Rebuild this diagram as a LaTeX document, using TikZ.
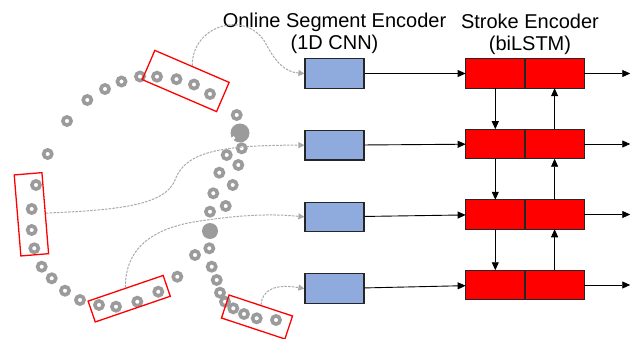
\documentclass[tikz,border=0pt]{standalone}
\usepackage{fontspec}
\setmainfont{Liberation Sans}
\usetikzlibrary{positioning,arrows.meta}
\definecolor{encblue}{RGB}{143,170,220}
\definecolor{dotgray}{RGB}{155,155,155}
\definecolor{flowgray}{RGB}{170,170,170}

\begin{document}
\begin{tikzpicture}
  [x=1pt, y=-1pt, node distance=41pt,
   seg/.style={rectangle, draw=black!85, fill=encblue, line width=1.2pt, minimum width=59pt, minimum height=29.5pt, inner sep=0pt},
   cell/.style={rectangle, draw=black!85, fill=red, line width=1.2pt, minimum width=59.3pt, minimum height=29.5pt, inner sep=0pt, outer sep=0pt},
   pick/.style={rectangle, draw=red, line width=1.3pt, inner sep=0pt},
   ring/.style={draw=dotgray, fill=white, line width=3.6pt},
   arr/.style={-{Triangle[length=8pt,width=7pt]}, line width=0.9pt},
   flow/.style={-{Triangle[length=6pt,width=6pt]}, draw=flowgray, line width=1pt, dash pattern=on 2.5pt off 1.2pt},
   title/.style={align=center, inner sep=0pt, font=\fontsize{20}{22}\selectfont}]
  \useasboundingbox (0,0) rectangle (631,339);

  % pen samples of the stroke
  \foreach \x/\y in {47.7/154, 67/121, 87.3/100, 105/89, 121.5/81.5, 140/76.5, 157/76.7, 176.5/79.2, 194/84.5, 210/94,
      36/185, 31.7/209, 31.7/230, 34.3/248.3, 41.7/266.7, 51.7/278.3, 65/290.7, 80/300, 99/305, 116/306.7,
      137.3/301.7, 158.3/291.7, 177.3/276.7,
      236.7/115, 241.7/148.3, 226.7/155, 238.3/165, 219.3/172.7, 232.7/185, 213.3/193.3, 225.7/206, 210/211.7,
      209.3/248.3, 195/255, 211.7/266.7, 216.7/280, 220/292.7, 225/301.7, 233.3/308.3, 244/314, 256.7/318.3, 276/320}
    \draw[ring] (\x,\y) circle (4.1pt);
  \fill[dotgray] (240,133) circle (9.5pt);
  \fill[white] (233.5,138) circle (1.8pt);
  \fill[dotgray] (210,231) circle (8pt);

  % selected segments
  \node[pick, minimum width=27.8pt, minimum height=81.3pt, rotate=4.7] (sel1) at (31.4,214.3) {};
  \node[pick, minimum width=79.3pt, minimum height=22pt, rotate=18.9] (sel2) at (129.2,298.7) {};
  \node[pick, minimum width=80.9pt, minimum height=31.8pt, rotate=-23.3] (sel3) at (185.7,81) {};
  \node[pick, minimum width=66.8pt, minimum height=24.2pt, rotate=-18.3] (sel4) at (257,317) {};

  % segment encoder
  \node[seg] (B1) at (334.5,73.5) {};
  \node[seg] (B2) [below=of B1] {};
  \node[seg] (B3) [below=of B2] {};
  \node[seg] (B4) [below=of B3] {};

  % stroke encoder
  \node[cell] (L1) at (495.3,73.5) {};
  \node[cell] (R1) [right=0pt of L1] {};
  \node[cell] (L2) [below=of L1] {};
  \node[cell] (R2) [right=0pt of L2] {};
  \node[cell] (L3) [below=of L2] {};
  \node[cell] (R3) [right=0pt of L3] {};
  \node[cell] (L4) [below=of L3] {};
  \node[cell] (R4) [right=0pt of L4] {};

  \node[title, above=4pt of B1] (segtitle) {Online Segment Encoder\\(1D CNN)};
  \node[title, above=4pt of L1.north east, xshift=5pt] (stroketitle) {Stroke Encoder\\(biLSTM)};

  \coordinate[right=46pt of R1.east] (out1);
  \coordinate[right=46pt of R2.east] (out2);
  \coordinate[right=46pt of R3.east] (out3);
  \coordinate[right=46pt of R4.east] (out4);

  \draw[flow] (sel3.north) .. controls (192,25) and (245,10) .. (265,42) .. controls (275,62) and (285,72) .. (B1.west);
  \draw[flow] (sel1.east) .. controls (120,210) and (165,205) .. (175,180) .. controls (185,152) and (220,145) .. (B2.west);
  \draw[flow] (sel2.north) .. controls (125,250) and (150,228) .. (200,221) .. controls (240,215) and (270,213.5) .. (B3.west);
  \draw[flow] (sel4.north) .. controls (262,290) and (275,283.5) .. (B4.west);

  \draw[arr] (B1) -- (L1);
  \draw[arr] (B2) -- (L2);
  \draw[arr] (B3) -- (L3);
  \draw[arr] (B4) -- (L4);
  \draw[arr] (R1) -- (out1);
  \draw[arr] (R2) -- (out2);
  \draw[arr] (R3) -- (out3);
  \draw[arr] (R4) -- (out4);
  \draw[arr] (L1) -- (L2);
  \draw[arr] (L2) -- (L3);
  \draw[arr] (L3) -- (L4);
  \draw[arr] (R2) -- (R1);
  \draw[arr] (R3) -- (R2);
  \draw[arr] (R4) -- (R3);
\end{tikzpicture}
\end{document}
